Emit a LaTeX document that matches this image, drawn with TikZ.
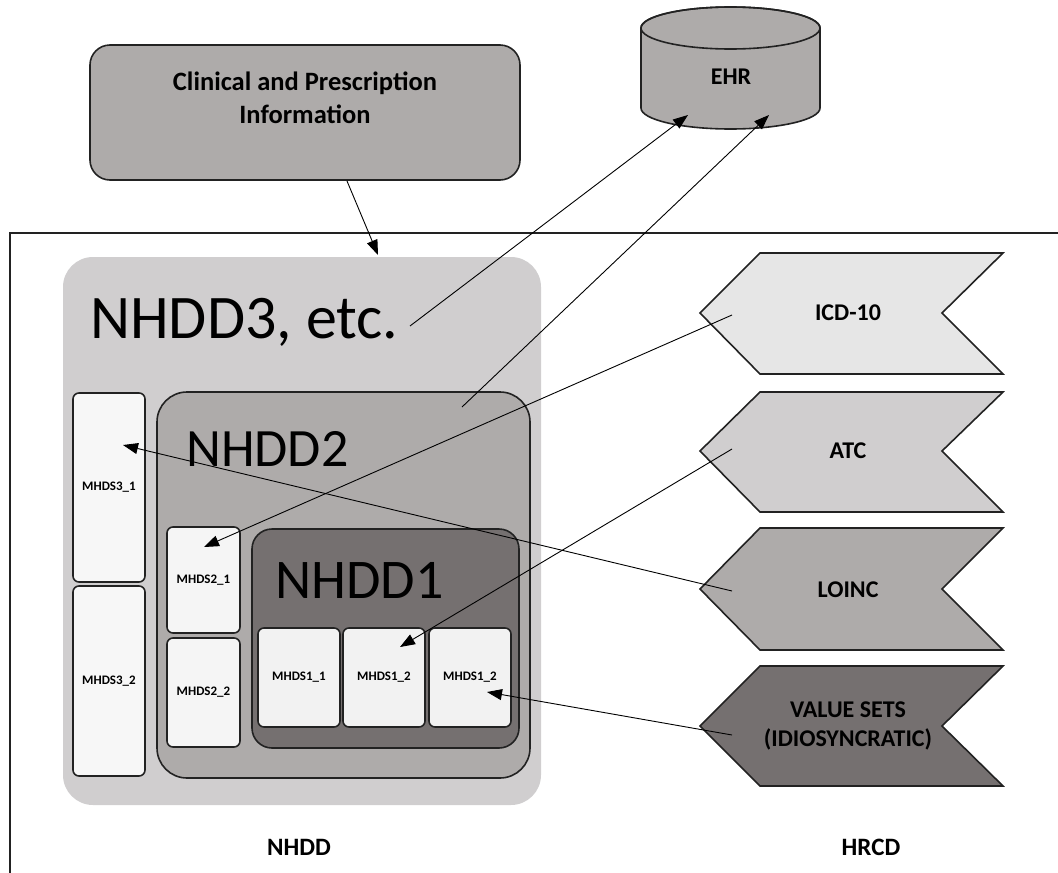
\documentclass[tikz,border=0pt]{standalone}
\usepackage{fontspec}
\setmainfont{Carlito}
\usetikzlibrary{arrows.meta}
\definecolor{gMid}{HTML}{AEABAA}
\definecolor{gLight}{HTML}{D0CECF}
\definecolor{gPale}{HTML}{E6E6E6}
\definecolor{gDark}{HTML}{757070}
\definecolor{gBox}{HTML}{F2F2F2}
\definecolor{edge}{HTML}{222222}
\tikzset{
  rbox/.style={draw=edge, line width=1.6pt, rectangle, inner sep=0pt},
  mbox/.style={rbox, fill=gBox, rounded corners=6pt, font=\bfseries\fontsize{13}{15}\selectfont},
  bigtxt/.style={inner sep=0pt, anchor=base west},
  lbl/.style={inner sep=0pt, font=\bfseries\fontsize{24}{29}\selectfont, align=center},
  conn/.style={line width=0.9pt, -{Triangle[length=15pt,width=11pt]}},
  chev/.style={draw=edge, line width=1.6pt, line join=miter}
}
\newcommand{\mychev}[4]{%
  \filldraw[chev, fill=#4] (700,#2) -- (760,#1) -- (1003,#1) -- (942,#2) -- (1003,#3) -- (760,#3) -- cycle;}
\begin{document}
\begin{tikzpicture}[x=1pt,y=-1pt]
\useasboundingbox (0,0) rectangle (1058,873);
% frame
\draw[line width=1.8pt, edge] (1058,233) -- (10,233) -- (10,873);
% clinical box
\node[rbox, fill=gMid, rounded corners=20pt, minimum width=430pt, minimum height=135pt] (clin) at (305,112.5) {};
\node[lbl, font=\bfseries\fontsize{26.5}{32}\selectfont] (clint) at (305,98) {Clinical and Prescription\\[1pt]Information};
% EHR cylinder
\filldraw[draw=edge, line width=1.6pt, fill=gMid] (641,28) -- (641,108)
  arc[start angle=180, end angle=360, x radius=89.5pt, y radius=21pt] -- (820,28)
  arc[start angle=0, end angle=180, x radius=89.5pt, y radius=21pt] -- cycle;
\draw[draw=edge, line width=1.6pt] (730.5,28) ellipse [x radius=89.5pt, y radius=21pt];
\node[lbl] (ehr) at (731,77) {EHR};
% NHDD containers
\node[fill=gLight, rounded corners=30pt, minimum width=478pt, minimum height=548pt, inner sep=0pt] (n3) at (302,531) {};
\node[bigtxt, font=\fontsize{62}{72}\selectfont] (t3) at (90,338) {NHDD3, etc.};
\node[rbox, fill=gMid, rounded corners=30pt, minimum width=373pt, minimum height=386pt] (n2) at (343.5,585) {};
\node[bigtxt, font=\fontsize{54}{64}\selectfont] (t2) at (186,466) {NHDD2};
\node[rbox, fill=gDark, rounded corners=20pt, minimum width=267pt, minimum height=219pt] (n1) at (385.5,638.5) {};
\node[bigtxt, font=\fontsize{56}{64}\selectfont] (t1) at (275,598) {NHDD1};
% MHDS boxes
\node[mbox, fill=white!97!black, minimum width=72pt, minimum height=189pt] (m31) at (109,487.5) {MHDS3\_1};
\node[mbox, fill=white!97!black, minimum width=72pt, minimum height=190pt] (m32) at (109,681) {MHDS3\_2};
\node[mbox, fill=white!96!black, minimum width=73pt, minimum height=106pt] (m21) at (203.5,580) {MHDS2\_1};
\node[mbox, fill=white!96!black, minimum width=73pt, minimum height=109pt] (m22) at (203.5,692.5) {MHDS2\_2};
\node[mbox, minimum width=82pt, minimum height=99pt] (m11) at (299,677.5) {MHDS1\_1};
\node[mbox, minimum width=82pt, minimum height=99pt] (m12) at (384,677.5) {MHDS1\_2};
\node[mbox, minimum width=82pt, minimum height=99pt] (m13) at (470,677.5) {MHDS1\_2};
% HRCD chevrons
\mychev{253}{313}{374}{gPale}
\mychev{392}{451}{512}{gLight}
\mychev{528}{589}{650}{gMid}
\mychev{666}{726}{786}{gDark}
\node[lbl] (icd) at (848,313) {ICD-10};
\node[lbl] (atc) at (848,451) {ATC};
\node[lbl] (loinc) at (848,590) {LOINC};
\node[lbl, align=center] (vs) at (848,726) {VALUE SETS\\(IDIOSYNCRATIC)};
% bottom labels
\node[lbl, font=\bfseries\fontsize{25}{30}\selectfont] (nhdd) at (299,847) {NHDD};
\node[lbl, font=\bfseries\fontsize{25}{30}\selectfont] (hrcd) at (871,847) {HRCD};
% connector end points
\coordinate (cs) at (347,181);
\coordinate (ce) at (378,255);
\coordinate (e1s) at (410,326);
\coordinate (e1e) at (688,115);
\coordinate (e2s) at (462,407);
\coordinate (e2e) at (769,115);
\coordinate (icds) at (732,315);
\coordinate (icde) at (204,547);
\coordinate (atcs) at (732,449);
\coordinate (atce) at (400,647);
\coordinate (loincs) at (732,591);
\coordinate (loince) at (123,445);
\coordinate (vss) at (732,735);
\coordinate (vse) at (487,692);
% connectors
\draw[conn] (cs) -- (ce);
\draw[conn] (e1s) -- (e1e);
\draw[conn] (e2s) -- (e2e);
\draw[conn] (icds) -- (icde);
\draw[conn] (atcs) -- (atce);
\draw[conn] (loincs) -- (loince);
\draw[conn] (vss) -- (vse);
\end{tikzpicture}
\end{document}
